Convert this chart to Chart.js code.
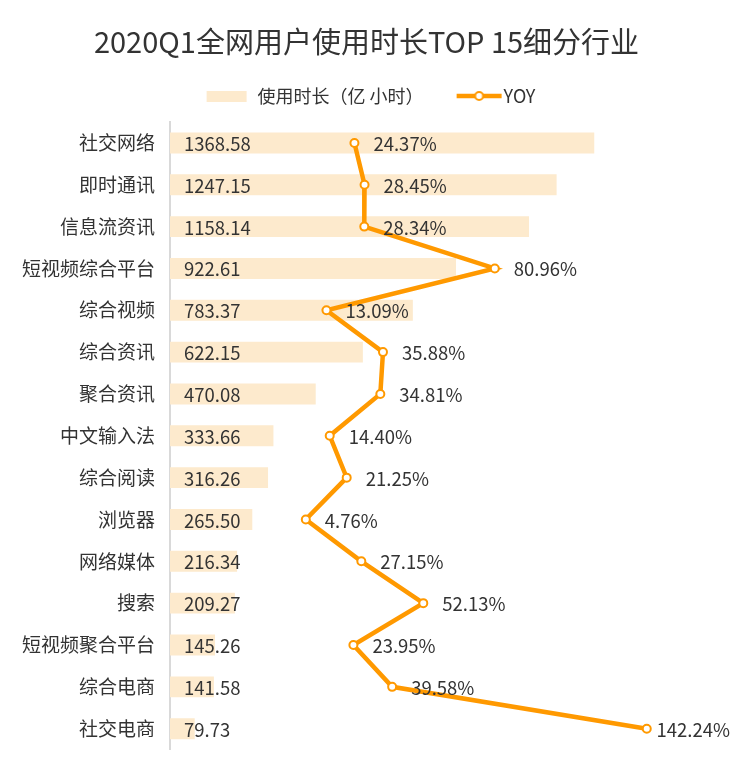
<!DOCTYPE html>
<html>
<head>
<meta charset="utf-8">
<script src="https://cdn.jsdelivr.net/npm/chart.js@4/dist/chart.umd.min.js"></script>
<style>
  html, body { margin: 0; padding: 0; background: #fff; }
  #wrap { width: 733px; height: 776px; }
</style>
</head>
<body>
<div id="wrap"><canvas id="chart"></canvas></div>
<script>
// data
const categories = ["社交网络", "即时通讯", "信息流资讯", "短视频综合平台", "综合视频", "综合资讯", "聚合资讯",
    "中文输入法", "综合阅读", "浏览器", "网络媒体", "搜索", "短视频聚合平台", "综合电商", "社交电商"];
const usageHours = [1368.58, 1247.15, 1158.14, 922.61, 783.37, 622.15, 470.08,
    333.66, 316.26, 265.50, 216.34, 209.27, 145.26, 141.58, 79.73];
const yoyPercent = [24.37, 28.45, 28.34, 80.96, 13.09, 35.88, 34.81,
    14.40, 21.25, 4.76, 27.15, 52.13, 23.95, 39.58, 142.24];

const FONT = '"Noto Sans CJK SC", "Noto Sans", sans-serif';
const BAR_COLOR = '#FDEACD';
const LINE_COLOR = '#FF9900';
const TEXT_COLOR = '#333333';
const SWATCH_W = 51;   // legend box width

// legend swatches (drawn centred on the legend box)
function barSwatch() {
    const c = document.createElement('canvas');
    c.width = SWATCH_W; c.height = 11;
    const g = c.getContext('2d');
    g.fillStyle = BAR_COLOR;
    g.fillRect(9, 0, 40, 11);
    return c;
}
function lineSwatch() {
    const c = document.createElement('canvas');
    c.width = SWATCH_W + 18; c.height = 14;
    const g = c.getContext('2d');
    g.strokeStyle = LINE_COLOR;
    g.lineWidth = 4.5;
    g.beginPath(); g.moveTo(22, 7); g.lineTo(67, 7); g.stroke();
    g.fillStyle = '#fff';
    g.lineWidth = 2;
    g.beginPath(); g.arc(44.5, 7, 4, 0, Math.PI * 2); g.fill(); g.stroke();
    return c;
}

// draws the numbers next to bars and points
const valueLabels = {
    id: 'valueLabels',
    afterDatasetsDraw(chart) {
        const ctx = chart.ctx;
        const area = chart.chartArea;
        ctx.save();
        ctx.font = '18.5px ' + FONT;
        ctx.fillStyle = TEXT_COLOR;
        ctx.textBaseline = 'middle';
        ctx.textAlign = 'left';

        chart.getDatasetMeta(0).data.forEach((bar, i) => {
            ctx.fillText(usageHours[i].toFixed(2), area.left + 14, bar.y + 1);
        });

        chart.getDatasetMeta(1).data.forEach((pt, i) => {
            const txt = yoyPercent[i].toFixed(2) + '%';
            const w = ctx.measureText(txt).width;
            let x = pt.x + 19;
            if (x + w > chart.width - 3) x = chart.width - 3 - w;
            ctx.fillText(txt, x, pt.y + 1);
        });
        ctx.restore();
    }
};

const ctx = document.getElementById('chart').getContext('2d');
const chart = new Chart(ctx, {
    type: 'bar',
    data: {
        labels: categories,
        datasets: [{
            label: '使用时长（亿 小时）',
            data: usageHours,
            backgroundColor: BAR_COLOR,
            categoryPercentage: 1,
            barPercentage: 0.5,
            xAxisID: 'x',
            order: 2
        }, {
            type: 'line',
            label: 'YOY',
            data: yoyPercent,
            borderColor: LINE_COLOR,
            borderWidth: 4.5,
            pointRadius: 4,
            pointBorderWidth: 2,
            pointBackgroundColor: '#fff',
            pointBorderColor: LINE_COLOR,
            xAxisID: 'x2',
            order: 1
        }]
    },
    options: {
        indexAxis: 'y',
        responsive: true,
        maintainAspectRatio: false,
        animation: false,
        layout: { padding: { top: 0, bottom: 22, left: 0, right: 0 } },
        scales: {
            x: { min: 0, max: 1600, display: false },
            x2: {
                min: -50, max: 150, position: 'top',
                grid: { display: false, drawTicks: false },
                border: { display: false },
                ticks: { display: false },
                afterFit(scale) { scale.height = 7; }
            },
            y: {
                grid: { display: false, drawTicks: false },
                border: { display: true, color: '#D9D9D9', width: 2 },
                ticks: { color: TEXT_COLOR, font: { size: 19, family: FONT }, padding: 15 },
                afterFit(scale) { scale.width = 170; }
            },
            yRight: {
                type: 'category',
                position: 'right',
                grid: { display: false, drawTicks: false },
                border: { display: false },
                ticks: { display: false },
                afterFit(scale) { scale.width = 67; }
            }
        },
        plugins: {
            title: {
                display: true,
                text: '2020Q1全网用户使用时长TOP 15细分行业',
                color: TEXT_COLOR,
                font: { size: 29, family: FONT, weight: 'normal' },
                padding: { top: 24.6, bottom: 7.6 }
            },
            legend: {
                display: true,
                position: 'top',
                labels: {
                    color: TEXT_COLOR,
                    font: { size: 18, family: FONT },
                    usePointStyle: true,
                    pointStyleWidth: SWATCH_W,
                    padding: 20,
                    generateLabels() {
                        return [
                            { text: '使用时长（亿 小时）', pointStyle: barSwatch(), fontColor: TEXT_COLOR, lineWidth: 0, datasetIndex: 0 },
                            { text: 'YOY', pointStyle: lineSwatch(), fontColor: TEXT_COLOR, lineWidth: 0, datasetIndex: 1 }
                        ];
                    }
                }
            },
            tooltip: { enabled: false }
        }
    },
    plugins: [valueLabels]
});
</script>
</body>
</html>
